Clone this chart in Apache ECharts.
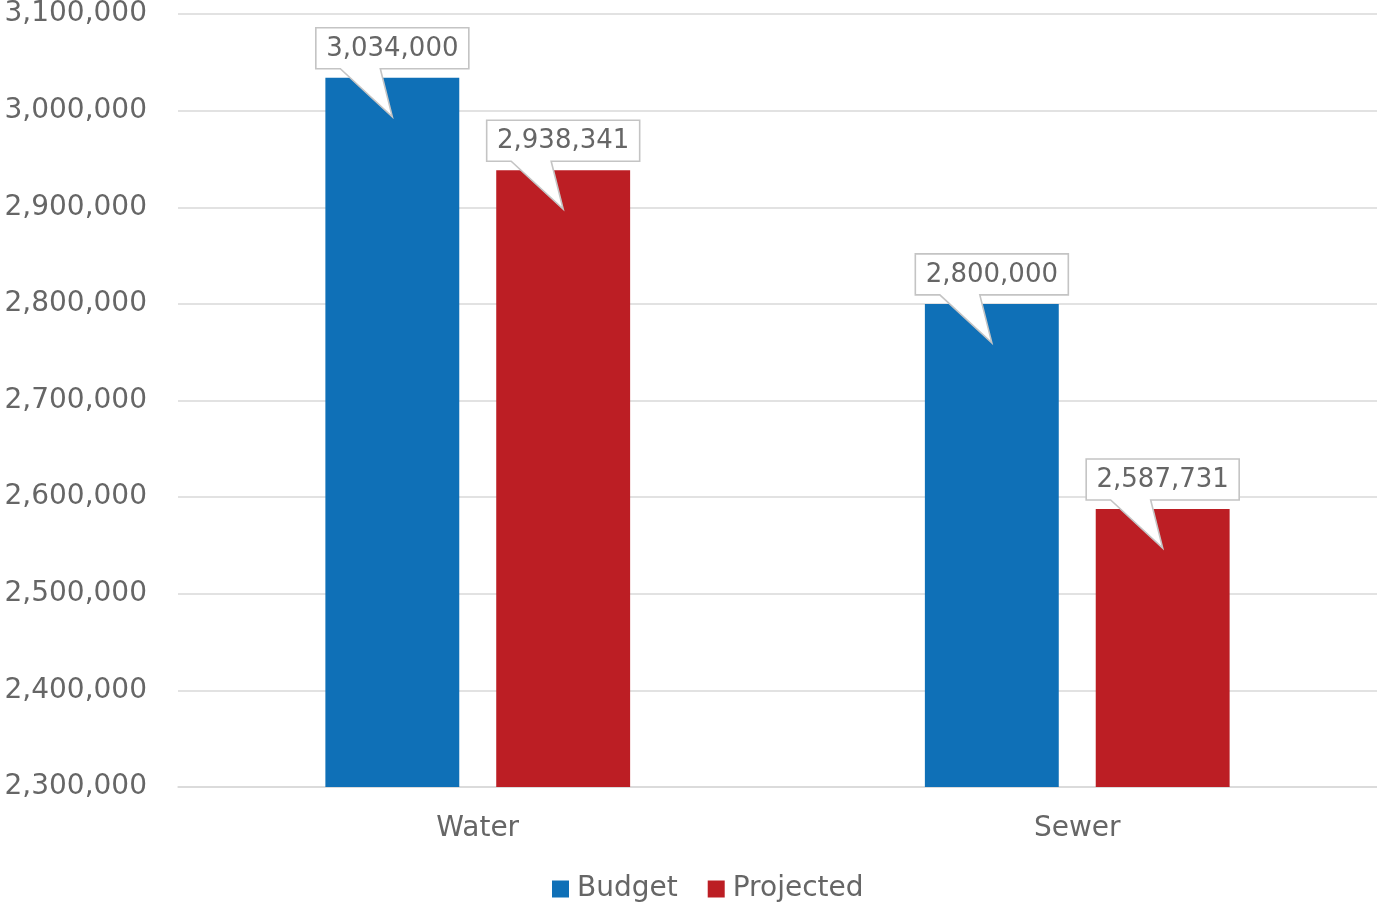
<!DOCTYPE html>
<html>
<head>
<meta charset="utf-8">
<script src="https://cdn.jsdelivr.net/npm/echarts@6/dist/echarts.min.js"></script>
<style>
html,body{margin:0;padding:0;background:#fff;}
#chart{width:1377px;height:903px;}
</style>
</head>
<body>
<div id="chart"></div>
<script>
const categories = ['Water', 'Sewer'];
const seriesNames = ['Budget', 'Projected'];
const budget = [3034000, 2800000];
const projected = [2938341, 2587731];
const yMin = 2300000, yMax = 3100000, yStep = 100000;

const colors = ['#0F70B7', '#BC1E24'];
const fontFamily = '"DejaVu Sans", sans-serif';
const textColor = '#666666';
const fmt = v => v.toLocaleString('en-US');

const labelData = [];
[budget, projected].forEach((arr, s) => arr.forEach((v, i) => labelData.push([i, v, s])));

const BAR_FRAC = 134 / 600;
const GAP_FRAC = 37 / 134;

function renderCallout(params, api) {
  const cat = api.value(0), val = api.value(1), s = api.value(2);
  const pt = api.coord([cat, val]);
  const band = api.size([1, 0])[0];
  const bw = band * BAR_FRAC;
  const off = (bw + bw * GAP_FRAC) / 2;
  const cx = pt[0] + (s === 0 ? -off : off);
  const barTop = pt[1];
  const text = fmt(val);
  const w = 153, h = 41;
  const bottom = barTop - 9, top = bottom - h;
  const left = cx - w / 2, right = cx + w / 2;
  const tipY = barTop + 39;
  return {
    type: 'group',
    children: [
      {
        type: 'polygon',
        shape: { points: [[left, top], [right, top], [right, bottom], [cx - 12, bottom], [cx, tipY], [cx - 52, bottom], [left, bottom]] },
        style: { fill: '#ffffff', stroke: '#c4c4c4', lineWidth: 1.6 },
        z2: 10
      },
      {
        type: 'text',
        x: cx, y: top + h / 2 + 1,
        style: { text: text, fill: textColor, font: '26px ' + fontFamily, align: 'center', verticalAlign: 'middle' },
        z2: 11
      }
    ]
  };
}

const chart = echarts.init(document.getElementById('chart'));
chart.setOption({
  animation: false,
  backgroundColor: '#ffffff',
  grid: { left: 178, right: 0, top: 11, bottom: 116, containLabel: false },
  legend: {
    data: seriesNames,
    left: 552, top: 875, padding: 0,
    itemWidth: 17, itemHeight: 17, itemGap: 30,
    icon: 'rect',
    textStyle: { fontSize: 28, color: textColor, fontFamily: fontFamily, padding: [0, 0, 0, 3] }
  },
  xAxis: {
    type: 'category',
    data: categories,
    axisLine: { lineStyle: { color: '#d9d9d9', width: 1.5 } },
    axisTick: { show: false },
    axisLabel: { fontSize: 28, color: textColor, fontFamily: fontFamily, margin: 28 }
  },
  yAxis: {
    type: 'value',
    min: yMin, max: yMax, interval: yStep,
    axisLine: { show: false },
    axisTick: { show: false },
    splitLine: { lineStyle: { color: '#d9d9d9', width: 1.5 } },
    axisLabel: { fontSize: 28, color: textColor, fontFamily: fontFamily, margin: 31, formatter: v => fmt(v) }
  },
  series: [
    { name: seriesNames[0], type: 'bar', data: budget, barWidth: (BAR_FRAC * 100) + '%', barGap: (GAP_FRAC * 100) + '%', itemStyle: { color: colors[0] } },
    { name: seriesNames[1], type: 'bar', data: projected, barWidth: (BAR_FRAC * 100) + '%', barGap: (GAP_FRAC * 100) + '%', itemStyle: { color: colors[1] } },
    { type: 'custom', data: labelData, encode: { x: 0, y: 1 }, renderItem: renderCallout, clip: false, z: 10, silent: true, tooltip: { show: false } }
  ]
});
</script>
</body>
</html>
